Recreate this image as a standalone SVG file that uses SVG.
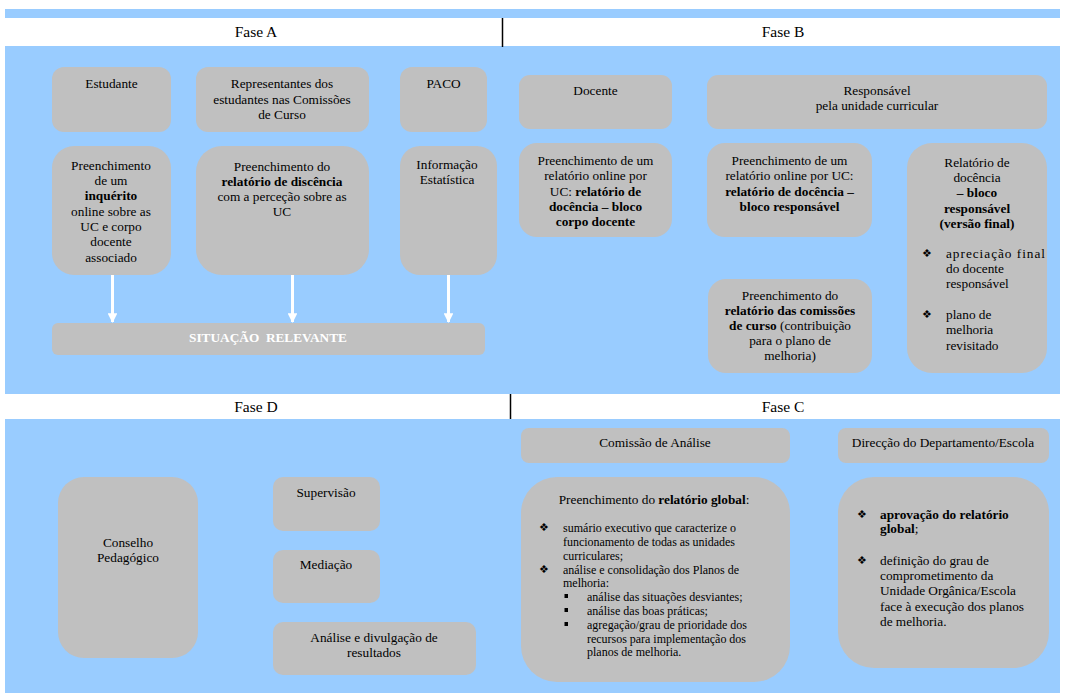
<svg xmlns="http://www.w3.org/2000/svg" width="1073" height="699" viewBox="0 0 1073 699">
<style>
.bg{fill:#99CCFF}
.hdr{fill:#FFFFFF}
.box{fill:#C0C0C0}
.div{stroke:#000;stroke-width:1.5}
text{font-family:"Liberation Serif","Times New Roman",serif;font-size:13.3px;fill:#000}
.c{text-anchor:middle}
.h{font-size:15.5px}
.b{font-weight:bold}
.s{font-size:12px}
.w{fill:#FFFFFF;font-weight:bold}
.bul{font-family:"DejaVu Sans",sans-serif;font-size:11px}
.sq{fill:#000}
.arr{stroke:#FFFFFF;stroke-width:3;fill:none}
.ah{fill:#FFFFFF}
</style>
<defs>
<marker id="wh" viewBox="0 0 10 10" refX="9" refY="5" markerWidth="3.2" markerHeight="3.2" orient="auto" markerUnits="strokeWidth">
<path d="M0,0 L10,5 L0,10 Z" class="ah"/>
</marker>
</defs>
<rect x="0" y="0" width="1073" height="699" fill="#FFFFFF"/>
<g id="bands">
<rect class="bg" x="5" y="9" width="1055" height="385"/>
<rect class="hdr" x="5" y="18" width="1055" height="28"/>
<line class="div" x1="502.5" y1="18" x2="502.5" y2="47"/>
<rect class="hdr" x="5" y="394" width="1055" height="25"/>
<rect class="bg" x="5" y="419" width="1055" height="274"/>
<line class="div" x1="510.5" y1="394" x2="510.5" y2="419"/>
<text class="c h" x="256" y="37">Fase A</text>
<text class="c h" x="783" y="37">Fase B</text>
<text class="c h" x="256" y="412">Fase D</text>
<text class="c h" x="783" y="412">Fase C</text>
</g>
<g id="estudante">
<rect class="box" x="52" y="67" width="119" height="65" rx="12"/>
<text class="c" x="111.5" y="88">Estudante</text>
</g>
<g id="representantes">
<rect class="box" x="196" y="67" width="173" height="65" rx="12"/>
<text class="c" x="282" y="88">Representantes dos</text>
<text class="c" x="282" y="103.5">estudantes nas Comissões</text>
<text class="c" x="282" y="119">de Curso</text>
</g>
<g id="paco">
<rect class="box" x="400" y="67" width="87" height="65" rx="12"/>
<text class="c" x="443.5" y="88">PACO</text>
</g>
<g id="inquerito">
<rect class="box" x="52" y="146" width="119" height="129" rx="22"/>
<text class="c" x="111" y="170">Preenchimento</text>
<text class="c" x="111" y="185">de um</text>
<text class="c b" x="111" y="200">inquérito</text>
<text class="c" x="111" y="216">online sobre as</text>
<text class="c" x="111" y="231">UC e corpo</text>
<text class="c" x="111" y="246">docente</text>
<text class="c" x="111" y="262">associado</text>
</g>
<g id="discencia">
<rect class="box" x="196" y="146" width="173" height="129" rx="26"/>
<text class="c" x="282" y="171">Preenchimento do</text>
<text class="c b" x="282" y="186">relatório de discência</text>
<text class="c" x="282" y="201">com a perceção sobre as</text>
<text class="c" x="282" y="216">UC</text>
</g>
<g id="informacao">
<rect class="box" x="400" y="146" width="97" height="129" rx="20"/>
<text class="c" x="447" y="169">Informação</text>
<text class="c" x="447" y="184">Estatística</text>
</g>
<g id="situacao">
<rect class="box" x="52" y="323" width="433" height="32" rx="6"/>
<text class="c w" x="268" y="342" xml:space="preserve">SITUAÇÃO  RELEVANTE</text>
</g>
<g id="docente">
<rect class="box" x="519" y="75" width="153" height="54" rx="11"/>
<text class="c" x="595.5" y="95">Docente</text>
</g>
<g id="responsavel">
<rect class="box" x="707" y="75" width="340" height="54" rx="11"/>
<text class="c" x="877" y="95">Responsável</text>
<text class="c" x="877" y="110">pela unidade curricular</text>
</g>
<g id="rel-docente">
<rect class="box" x="519" y="143" width="153" height="94" rx="18"/>
<text class="c" x="595.5" y="165">Preenchimento de um</text>
<text class="c" x="595.5" y="180">relatório online por</text>
<text class="c" x="595.5" y="196">UC: <tspan class="b">relatório de</tspan></text>
<text class="c b" x="595.5" y="211">docência – bloco</text>
<text class="c b" x="595.5" y="226">corpo docente</text>
</g>
<g id="rel-responsavel">
<rect class="box" x="707" y="143" width="165" height="94" rx="18"/>
<text class="c" x="789.5" y="165">Preenchimento de um</text>
<text class="c" x="789.5" y="180">relatório online por UC:</text>
<text class="c b" x="789.5" y="196">relatório de docência –</text>
<text class="c b" x="789.5" y="211">bloco responsável</text>
</g>
<g id="rel-final">
<rect class="box" x="907" y="143" width="140" height="230" rx="25"/>
<text class="c" x="977" y="167">Relatório de</text>
<text class="c" x="977" y="182">docência</text>
<text class="c b" x="977" y="197">– bloco</text>
<text class="c b" x="977" y="213">responsável</text>
<text class="c b" x="977" y="228">(versão final)</text>
<text class="c bul" x="927" y="257">❖</text>
<text x="946" y="258" textLength="99" lengthAdjust="spacing">apreciação final</text>
<text x="946" y="273">do docente</text>
<text x="946" y="288">responsável</text>
<text class="c bul" x="927" y="318">❖</text>
<text x="946" y="319">plano de</text>
<text x="946" y="334">melhoria</text>
<text x="946" y="350">revisitado</text>
</g>
<g id="rel-comissoes">
<rect class="box" x="708" y="279" width="164" height="94" rx="18"/>
<text class="c" x="790" y="300">Preenchimento do</text>
<text class="c b" x="790" y="315">relatório das comissões</text>
<text class="c" x="790" y="330"><tspan class="b">de curso</tspan> (contribuição</text>
<text class="c" x="790" y="345">para o plano de</text>
<text class="c" x="790" y="360">melhoria)</text>
</g>
<g id="conselho">
<rect class="box" x="58" y="477" width="140" height="181" rx="26"/>
<text class="c" x="128" y="547">Conselho</text>
<text class="c" x="128" y="562">Pedagógico</text>
</g>
<g id="supervisao">
<rect class="box" x="273" y="477" width="107" height="54" rx="10"/>
<text class="c" x="326" y="497">Supervisão</text>
</g>
<g id="mediacao">
<rect class="box" x="273" y="550" width="107" height="53" rx="10"/>
<text class="c" x="326" y="569">Mediação</text>
</g>
<g id="analise-divulgacao">
<rect class="box" x="273" y="622" width="203" height="53" rx="10"/>
<text class="c" x="374" y="642">Análise e divulgação de</text>
<text class="c" x="374" y="657">resultados</text>
</g>
<g id="comissao-analise">
<rect class="box" x="521" y="428" width="269" height="35" rx="8"/>
<text class="c" x="655" y="447">Comissão de Análise</text>
</g>
<g id="direccao">
<rect class="box" x="838" y="428" width="211" height="35" rx="8"/>
<text class="c" x="943" y="447">Direcção do Departamento/Escola</text>
</g>
<g id="relatorio-global">
<rect class="box" x="521" y="477" width="269" height="205" rx="36"/>
<text class="c" x="654" y="504">Preenchimento do <tspan class="b">relatório global</tspan>:</text>
<text class="c bul" x="544" y="531">❖</text>
<text class="s" x="563" y="532" textLength="173" lengthAdjust="spacing">sumário executivo que caracterize o</text>
<text class="s" x="563" y="546" textLength="172" lengthAdjust="spacing">funcionamento de todas as unidades</text>
<text class="s" x="563" y="560">curriculares;</text>
<text class="c bul" x="544" y="573">❖</text>
<text class="s" x="563" y="574" textLength="176" lengthAdjust="spacing">análise e consolidação dos Planos de</text>
<text class="s" x="563" y="587">melhoria:</text>
<rect class="sq" x="564.5" y="594" width="3.5" height="4"/>
<text class="s" x="587" y="601">análise das situações desviantes;</text>
<rect class="sq" x="564.5" y="608" width="3.5" height="4"/>
<text class="s" x="587" y="615">análise das boas práticas;</text>
<rect class="sq" x="564.5" y="622" width="3.5" height="4"/>
<text class="s" x="587" y="629" textLength="160" lengthAdjust="spacing">agregação/grau de prioridade dos</text>
<text class="s" x="587" y="643" textLength="159" lengthAdjust="spacing">recursos para implementação dos</text>
<text class="s" x="587" y="656">planos de melhoria.</text>
</g>
<g id="aprovacao">
<rect class="box" x="838" y="477" width="211" height="191" rx="36"/>
<text class="c bul" x="862" y="518">❖</text>
<text class="b" x="880" y="519">aprovação do relatório</text>
<text x="880" y="533"><tspan class="b">global</tspan>;</text>
<text class="c bul" x="862" y="564">❖</text>
<text x="880" y="565">definição do grau de</text>
<text x="880" y="580">comprometimento da</text>
<text x="880" y="595">Unidade Orgânica/Escola</text>
<text x="880" y="611">face à execução dos planos</text>
<text x="880" y="626">de melhoria.</text>
</g>
<g id="connectors">
<line class="arr" x1="112.5" y1="275" x2="112.5" y2="322" marker-end="url(#wh)"/>
<line class="arr" x1="292.5" y1="275" x2="292.5" y2="322" marker-end="url(#wh)"/>
<line class="arr" x1="448.5" y1="275" x2="448.5" y2="322" marker-end="url(#wh)"/>
</g>
</svg>
